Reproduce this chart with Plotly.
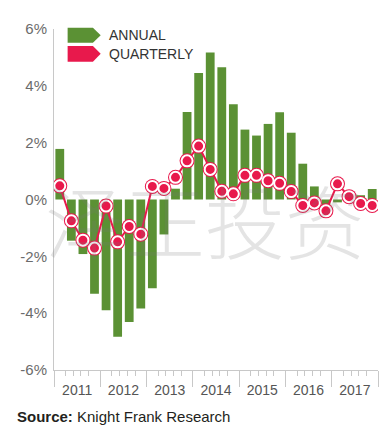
import plotly.graph_objects as go

years = ["2011", "2012", "2013", "2014", "2015", "2016", "2017"]
quarters = [f"{y} Q{q}" for y in years for q in range(1, 5)]

annual = [1.78, -1.45, -1.92, -3.32, -3.90, -4.83, -4.31, -3.84,
          -3.12, -1.23, 0.38, 3.08, 4.45, 5.17, 4.65, 3.35,
          2.46, 2.25, 2.66, 3.07, 2.35, 1.26, 0.46, -0.20,
          -0.10, 0.02, 0.15, 0.37]

quarterly = [0.48, -0.75, -1.43, -1.71, -0.23, -1.49, -0.95, -1.22,
             0.46, 0.39, 0.78, 1.36, 1.88, 1.06, 0.29, 0.20,
             0.85, 0.85, 0.66, 0.57, 0.28, -0.21, -0.12, -0.40,
             0.55, 0.10, -0.14, -0.21]

y_ticks = [-6, -4, -2, 0, 2, 4, 6]
y_ticktext = [f"{v}%" for v in y_ticks]

GREEN = "#5b9134"
RED = "#e8194c"
AXIS = "#c8c8c8"
FONT = "Liberation Sans, Arial, sans-serif"

xpos = list(range(len(quarters)))
year_centers = [i * 4 + 1.5 for i in range(len(years))]
year_bounds = [i * 4 - 0.5 for i in range(len(years) + 1)]
minor_ticks = [b + o for b in year_bounds[:-1] for o in (1.0, 1.67, 2.33, 3.0)]

fig = go.Figure()
fig.add_trace(go.Bar(x=xpos, y=annual, marker=dict(color=GREEN, line=dict(width=0)),
                     width=0.76, name="ANNUAL", showlegend=False,
                     customdata=quarters, hovertemplate="%{customdata}: %{y}%<extra>Annual</extra>"))
fig.add_trace(go.Scatter(x=xpos, y=quarterly, mode="lines+markers",
                         line=dict(color=RED, width=2),
                         marker=dict(size=15, color=RED, line=dict(width=0)),
                         name="QUARTERLY", showlegend=False, hoverinfo="skip"))
fig.add_trace(go.Scatter(x=xpos, y=quarterly, mode="markers",
                         marker=dict(size=11, color=RED, line=dict(width=2, color="white")),
                         showlegend=False, customdata=quarters,
                         hovertemplate="%{customdata}: %{y}%<extra>Quarterly</extra>"))
fig.add_trace(go.Scatter(x=[], y=[], xaxis="x2", showlegend=False, hoverinfo="skip"))

# page body has an 8px default margin; size the figure so it lands in the 392x432 window
OFF = 8
W, H = 392 - OFF, 432 - OFF
ml, mt = 45 - OFF, 22 - OFF
pw, ph = 333, 348
mr, mb = W - ml - pw, H - mt - ph


def px(x):
    return (x - OFF - ml) / pw


def py(y):
    return (H - mb - (y - OFF)) / ph


def arrow(x0, x1, xt, y0, y1, color):
    ym = (y0 + y1) / 2
    pts = [(x0, y0), (x1, y0), (xt, ym), (x1, y1), (x0, y1)]
    d = "M " + " L ".join(f"{px(a):.4f},{py(b):.4f}" for a, b in pts) + " Z"
    return dict(type="path", xref="paper", yref="paper", path=d,
                fillcolor=color, line=dict(width=0))


fig.update_layout(
    width=W, height=H,
    margin=dict(l=ml, r=mr, t=mt, b=mb),
    plot_bgcolor="white", paper_bgcolor="white",
    font=dict(family=FONT),
    bargap=0.24,
    xaxis=dict(range=[-0.5, 27.5], tickvals=year_centers, ticktext=years,
               ticks="outside", ticklen=7, tickcolor="rgba(0,0,0,0)",
               tickfont=dict(size=14, color="#555555"),
               showline=True, linecolor=AXIS, linewidth=1,
               showgrid=False, zeroline=False, fixedrange=True,
               minor=dict(tickvals=minor_ticks, ticks="outside", ticklen=5,
                          tickcolor=AXIS, tickwidth=1, showgrid=False)),
    xaxis2=dict(range=[-0.5, 27.5], overlaying="x", anchor="y", side="bottom",
                tickvals=year_bounds, ticks="outside", ticklen=16, tickcolor=AXIS,
                tickwidth=1, showticklabels=False, showgrid=False, zeroline=False,
                showline=False),
    yaxis=dict(range=[-6, 6], tickvals=y_ticks, ticktext=y_ticktext,
               ticks="outside", ticklen=3, tickcolor="rgba(0,0,0,0)",
               tickfont=dict(size=15, color="#6b6b6b"),
               showline=True, linecolor=AXIS, linewidth=1,
               showgrid=False, zeroline=False),
    shapes=[arrow(59, 85, 93, 20.7, 36, GREEN), arrow(59, 85, 93, 39.3, 55.3, RED)],
    annotations=[
        dict(text="ANNUAL", xref="paper", yref="paper", x=px(99), y=py(28.5),
             xanchor="left", yanchor="middle", showarrow=False,
             font=dict(size=14, color="#333333")),
        dict(text="QUARTERLY", xref="paper", yref="paper", x=px(99), y=py(47.5),
             xanchor="left", yanchor="middle", showarrow=False,
             font=dict(size=14, color="#333333")),
        dict(text="泽正投资", xref="paper", yref="paper", x=px(200), y=py(215),
             xanchor="center", yanchor="middle", showarrow=False,
             font=dict(size=80, color="rgba(120,120,120,0.2)", weight=300,
                       family="Noto Sans CJK SC")),
        dict(text="<b>Source:</b> Knight Frank Research", xref="paper", yref="paper",
             x=px(5), y=py(417), xanchor="left", yanchor="middle", showarrow=False,
             font=dict(size=15, color="#231f20")),
    ],
)

fig.write_html("out.html")
